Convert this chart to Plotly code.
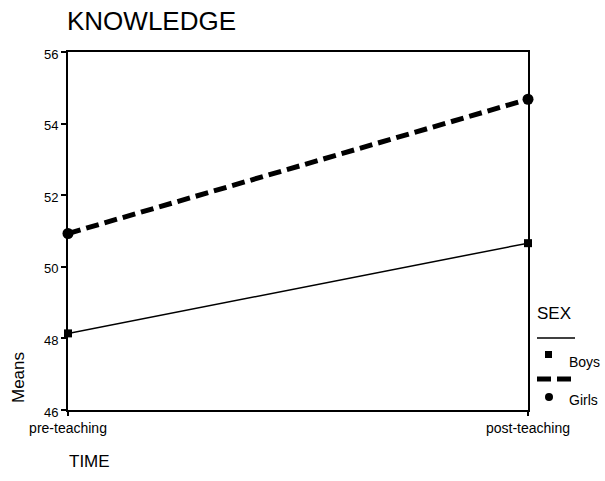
import plotly.graph_objects as go

# Data
time_labels = ["pre-teaching", "post-teaching"]
boys_means = [48.14, 50.66]
girls_means = [50.93, 54.68]
y_ticks = [46, 48, 50, 52, 54, 56]

FONT = "Liberation Sans, Arial, sans-serif"

W, H = 605, 481
L, R, T, B = 68, 77, 52, 71
PW = W - L - R
PH = H - T - B


def px(x):
    return (x - L) / PW


def py(y):
    return (H - B - y) / PH


fig = go.Figure()
fig.add_trace(go.Scatter(
    x=time_labels, y=boys_means, mode="lines+markers", name="Boys",
    line=dict(color="black", width=1.5),
    marker=dict(symbol="square", size=8, color="black"),
    cliponaxis=False, showlegend=False,
))
fig.add_trace(go.Scatter(
    x=time_labels, y=girls_means, mode="lines+markers", name="Girls",
    line=dict(color="black", width=5, dash="13px,6px"),
    marker=dict(symbol="circle", size=11, color="black"),
    cliponaxis=False, showlegend=False,
))

shapes = [
    dict(type="line", xref="paper", yref="paper", x0=px(537), x1=px(575), y0=py(338), y1=py(338),
         line=dict(color="black", width=1.5)),
    dict(type="rect", xref="paper", yref="paper", x0=px(545), x1=px(552), y0=py(351), y1=py(358),
         line=dict(width=0), fillcolor="black"),
    dict(type="line", xref="paper", yref="paper", x0=px(537), x1=px(575), y0=py(379), y1=py(379),
         line=dict(color="black", width=5, dash="14px,6px")),
    dict(type="circle", xref="paper", yref="paper", x0=px(545), x1=px(553), y0=py(393), y1=py(401),
         line=dict(width=0), fillcolor="black"),
]

annotations = [
    dict(text="Means", xref="paper", yref="paper", x=px(18), y=py(378), showarrow=False,
         textangle=-90, xanchor="center", yanchor="middle", font=dict(size=17, color="black", family=FONT)),
    dict(text="TIME", xref="paper", yref="paper", x=px(67), y=py(461), showarrow=False,
         xanchor="left", yanchor="middle", font=dict(size=17, color="black", family=FONT)),
    dict(text="SEX", xref="paper", yref="paper", x=px(535), y=py(313), showarrow=False,
         xanchor="left", yanchor="middle", font=dict(size=17, color="black", family=FONT)),
    dict(text="Boys", xref="paper", yref="paper", x=px(567), y=py(362), showarrow=False,
         xanchor="left", yanchor="middle", font=dict(size=14, color="black", family=FONT)),
    dict(text="Girls", xref="paper", yref="paper", x=px(567), y=py(400), showarrow=False,
         xanchor="left", yanchor="middle", font=dict(size=14, color="black", family=FONT)),
]

fig.update_layout(
    width=W, height=H,
    margin=dict(l=L, r=R, t=T, b=B, pad=0),
    paper_bgcolor="white", plot_bgcolor="white",
    font=dict(family=FONT, color="black"),
    title=dict(text="KNOWLEDGE", x=67 / W, xanchor="left", xref="container",
               y=1 - 20.5 / H, yanchor="middle", yref="container",
               font=dict(size=26, color="black", family=FONT)),
    shapes=shapes, annotations=annotations,
    showlegend=False,
)
fig.update_xaxes(
    type="category", range=[0, 1], showgrid=False, zeroline=False,
    showline=True, linecolor="black", linewidth=2, mirror=True,
    ticks="outside", ticklen=4, tickcolor="black", tickwidth=1.5,
    tickfont=dict(size=14, color="black", family=FONT),
)
fig.update_yaxes(
    range=[46, 56], tickvals=y_ticks, showgrid=False, zeroline=False,
    showline=True, linecolor="black", linewidth=2, mirror=True,
    ticks="outside", ticklen=5, tickcolor="black", tickwidth=1.5,
    tickfont=dict(size=13, color="black", family=FONT), ticklabelshift=2,
)

fig.write_html("out.html", config={"displayModeBar": False},
               post_script="document.body.style.margin='0';document.body.style.padding='0';")
